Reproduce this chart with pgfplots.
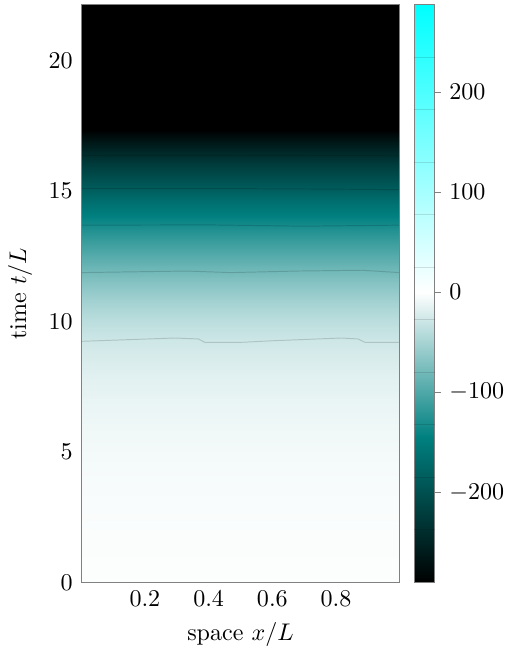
\documentclass[border=0pt]{standalone}
\usepackage{pgfplots}
\pgfplotsset{compat=1.18}
\pgfplotstableread{
x t v
0 0 -1.5
1 0 -1.5

0 1 -2
1 1 -2

0 2 -2.5
1 2 -2.5

0 3 -3.5
1 3 -3.5

0 4 -5
1 4 -5

0 5 -6.5
1 5 -6.5

0 6 -9
1 6 -9

0 7 -12.5
1 7 -12.5

0 8 -17.5
1 8 -17.5

0 9 -25
1 9 -25

0 9.26 -27.8
1 9.26 -27.8

0 10 -38
1 10 -38

0 10.5 -46.5
1 10.5 -46.5

0 11 -57
1 11 -57

0 11.5 -68.5
1 11.5 -68.5

0 11.93 -80.3
1 11.93 -80.3

0 12.5 -96
1 12.5 -96

0 13 -110.5
1 13 -110.5

0 13.5 -126
1 13.5 -126

0 13.7 -132.7
1 13.7 -132.7

0 14 -143.5
1 14 -143.5

0 14.5 -161
1 14.5 -161

0 15 -181.5
1 15 -181.5

0 15.09 -185.2
1 15.09 -185.2

0 15.5 -201
1 15.5 -201

0 16 -221
1 16 -221

0 16.37 -237.6
1 16.37 -237.6

0 16.8 -260
1 16.8 -260

0 17.1 -277
1 17.1 -277

0 17.35 -290
1 17.35 -290

0 22.15 -290
1 22.15 -290
}\heat
\begin{document}
\begin{tikzpicture}
\begin{axis}[
  width=132.4pt, height=240pt, scale only axis,
  xmin=0, xmax=1, ymin=0, ymax=22.15,
  enlargelimits=false,
  xtick={0.2,0.4,0.6,0.8},
  ytick={0,5,10,15,20},
  tick style={draw=none},
  axis line style={draw=gray},
  axis on top,
  xlabel={space $x/L$},
  ylabel={time $t/L$},
  colormap={tc}{rgb255(0pt)=(0,0,0); rgb255(145pt)=(0,128,128); rgb255(290pt)=(255,255,255); rgb255(577pt)=(0,255,255)},
  point meta min=-290, point meta max=287,
  colorbar,
  colorbar style={
    width=8.6pt,
    at={(parent axis.north east)}, anchor=north west, xshift=-2.6pt,
    ytick={-200,-100,0,100,200},
    yticklabel pos=right,
    ytick pos=right,
    tick align=outside,
    major tick length=2.5pt,
    tick style={draw=gray},
    axis line style={draw=gray},
    extra y ticks={-237.6,-185.2,-132.7,-80.3,-27.8,24.6,77.1,129.5,182,234.4},
    extra y tick labels={},
    extra y tick style={grid=major, major grid style={draw=black, opacity=0.12, line width=0.4pt}, major tick length=0pt, tick style={draw=none}},
  },
]
\addplot[surf, shader=interp, point meta=explicit, mesh/cols=2] table[x=x, y=t, meta=v] {\heat};
\addplot[no marks, draw=black, opacity=0.15, line width=0.4pt] coordinates {
(0,9.244) (0.294,9.372) (0.368,9.335) (0.388,9.206) (0.503,9.206) (0.608,9.27) (0.817,9.372) (0.869,9.335) (0.891,9.206) (1,9.206)};
\addplot[no marks, draw=black, opacity=0.15, line width=0.4pt] coordinates {
(0,11.88) (0.33,11.94) (0.47,11.88) (0.68,11.94) (0.88,11.97) (1,11.88)};
\addplot[no marks, draw=black, opacity=0.15, line width=0.4pt] coordinates {
(0,13.70) (0.4,13.71) (0.7,13.66) (1,13.70)};
\addplot[no marks, draw=black, opacity=0.15, line width=0.4pt] coordinates {
(0,15.10) (0.5,15.10) (0.8,15.08) (1,15.06)};
\addplot[no marks, draw=black, opacity=0.15, line width=0.4pt] coordinates {
(0,16.37) (0.5,16.38) (1,16.36)};
\end{axis}
\path (current axis.north) +(0,2pt);
\end{tikzpicture}
\end{document}
